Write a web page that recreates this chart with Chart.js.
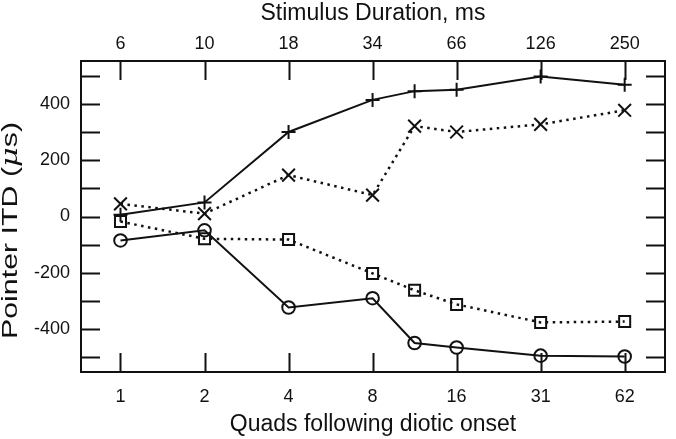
<!DOCTYPE html>
<html>
<head>
<meta charset="utf-8">
<script src="https://cdn.jsdelivr.net/npm/chart.js@4.4.1/dist/chart.umd.min.js"></script>
<style>
  html, body { margin: 0; padding: 0; background: #fff; }
  #wrap { width: 676px; height: 439px; }
</style>
</head>
<body>
<div id="wrap"><canvas id="itd-chart"></canvas></div>
<script>
// posiciones en el eje (indice de quad), el 3.5 cae entre 8 y 16
const quadIndex = [0, 1, 2, 3, 3.5, 4, 5, 6];
const quadLabels = ['1', '2', '4', '8', '16', '31', '62'];
const durationLabels = ['6', '10', '18', '34', '66', '126', '250'];
const yTickValues = [-500, -400, -300, -200, -100, 0, 100, 200, 300, 400, 500];
const yLabelValues = [-400, -200, 0, 200, 400];

// series (Pointer ITD, us)
const plusSeries = [6, 50, 300, 414, 445, 450, 497, 468];
const crossSeries = [45, 10, 147, 76, 321, 300, 327, 377];
const squareSeries = [-18, -79, -82, -202, -262, -312, -376, -373];
const circleSeries = [-85, -49, -323, -290, -449, -465, -494, -497];

const ink = '#111';
const fontFamily = '"Liberation Sans", Arial, sans-serif';

const toPoints = vals => vals.map((v, i) => ({ x: quadIndex[i], y: v }));
const indexTicks = s => { s.ticks = quadLabels.map((_, i) => ({ value: i })); };

// marcas hacia adentro + marco
const frameTicks = {
    id: 'frameTicks',
    afterDraw(chart) {
        const { ctx, chartArea: a } = chart;
        const len = 19;
        ctx.save();
        ctx.strokeStyle = ink;
        ctx.lineWidth = 2;
        ctx.beginPath();
        chart.scales.y.ticks.forEach(t => {
            const py = Math.round(chart.scales.y.getPixelForValue(t.value)) + 0.5;
            ctx.moveTo(a.left, py); ctx.lineTo(a.left + len, py);
            ctx.moveTo(a.right, py); ctx.lineTo(a.right - len, py);
        });
        chart.scales.x.ticks.forEach(t => {
            const px = Math.round(chart.scales.x.getPixelForValue(t.value)) + 0.5;
            ctx.moveTo(px, a.bottom); ctx.lineTo(px, a.bottom - len);
        });
        chart.scales.x2.ticks.forEach(t => {
            const px = Math.round(chart.scales.x2.getPixelForValue(t.value)) + 0.5;
            ctx.moveTo(px, a.top); ctx.lineTo(px, a.top + len);
        });
        ctx.stroke();
        ctx.strokeRect(a.left, a.top, a.right - a.left, a.bottom - a.top);
        ctx.restore();
    }
};

// titulo del eje Y con la mu en cursiva
const yTitle = {
    id: 'yTitle',
    afterDraw(chart) {
        const { ctx, chartArea: a } = chart;
        const parts = [
            { t: 'Pointer ITD (', f: '22px ' + fontFamily },
            { t: '\u03bc', f: 'italic 22px "DejaVu Serif", serif' },
            { t: 's)', f: '22px ' + fontFamily }
        ];
        const stretch = 1.38;
        let w = 0;
        parts.forEach(p => { ctx.font = p.f; p.w = ctx.measureText(p.t).width; w += p.w; });
        ctx.save();
        ctx.translate(17, (a.top + a.bottom) / 2 + 14);
        ctx.rotate(-Math.PI / 2);
        ctx.scale(stretch, 1);
        ctx.fillStyle = ink;
        ctx.textBaseline = 'alphabetic';
        ctx.textAlign = 'left';
        let x = -w / 2;
        parts.forEach(p => { ctx.font = p.f; ctx.fillText(p.t, x, 0); x += p.w; });
        ctx.restore();
    }
};

const baseSet = {
    borderColor: ink,
    pointBorderColor: ink,
    pointBackgroundColor: 'rgba(0,0,0,0)',
    backgroundColor: 'rgba(0,0,0,0)',
    pointBorderWidth: 2,
    tension: 0,
    fill: false,
    clip: false
};

const xRange = { min: -0.47, max: 6.48 };

new Chart(document.getElementById('itd-chart'), {
    type: 'line',
    data: {
        datasets: [
            { ...baseSet, data: toPoints(plusSeries), borderWidth: 2, pointStyle: 'cross', pointRadius: 7 },
            { ...baseSet, data: toPoints(crossSeries), borderWidth: 2.5, borderDash: [2.5, 4.5], pointStyle: 'crossRot', pointRadius: 9 },
            { ...baseSet, data: toPoints(squareSeries), borderWidth: 2.5, borderDash: [2.5, 4.5], pointStyle: 'rect', pointRadius: 7.8 },
            { ...baseSet, data: toPoints(circleSeries), borderWidth: 2, pointStyle: 'circle', pointRadius: 6.3 }
        ]
    },
    options: {
        responsive: true,
        maintainAspectRatio: false,
        animation: false,
        layout: { padding: { left: 0, right: 3, top: 0, bottom: 0 } },
        plugins: { legend: { display: false }, tooltip: { enabled: false } },
        scales: {
            x: {
                type: 'linear', position: 'bottom', ...xRange,
                afterBuildTicks: indexTicks,
                afterFit: s => { s.height = 67; },
                grid: { display: false, drawTicks: false },
                border: { display: false },
                ticks: {
                    autoSkip: false, maxRotation: 0,
                    padding: 14, color: ink, font: { family: fontFamily, size: 18 },
                    callback: v => quadLabels[v] ?? ''
                },
                title: { display: true, text: 'Quads following diotic onset', color: ink,
                         font: { family: fontFamily, size: 23 }, padding: { top: 0, bottom: 1 } }
            },
            x2: {
                type: 'linear', position: 'top', ...xRange,
                afterBuildTicks: indexTicks,
                afterFit: s => { s.height = 61; },
                grid: { display: false, drawTicks: false },
                border: { display: false },
                ticks: {
                    autoSkip: false, maxRotation: 0,
                    padding: 6, color: ink, font: { family: fontFamily, size: 18 },
                    callback: v => durationLabels[v] ?? ''
                },
                title: { display: true, text: 'Stimulus Duration, ms', color: ink,
                         font: { family: fontFamily, size: 23 }, padding: { top: 0, bottom: 0 } }
            },
            y: {
                type: 'linear', position: 'left', min: -552, max: 552,
                afterBuildTicks: s => { s.ticks = yTickValues.map(v => ({ value: v })); },
                afterFit: s => { s.width = 81; },
                grid: { display: false, drawTicks: false },
                border: { display: false },
                ticks: {
                    autoSkip: false,
                    padding: 11, color: ink, font: { family: fontFamily, size: 18 },
                    callback: v => yLabelValues.includes(v) ? String(v) : ''
                },
                title: { display: false }
            }
        }
    },
    plugins: [frameTicks, yTitle]
});
</script>
</body>
</html>
